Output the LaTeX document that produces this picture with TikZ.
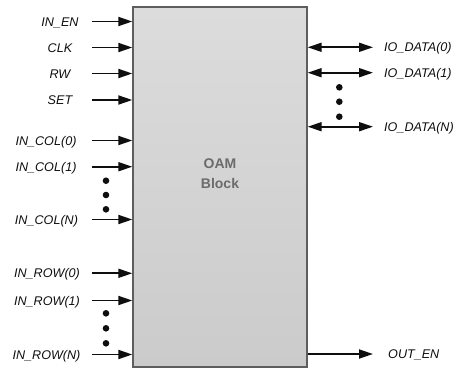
\documentclass[tikz,border=0pt]{standalone}
\usepackage{fontspec}
\setmainfont{Liberation Sans}
\usetikzlibrary{arrows.meta}
\definecolor{boxtop}{HTML}{DCDCDC}
\definecolor{boxbot}{HTML}{CBCBCB}
\definecolor{boxline}{HTML}{5E5E5E}
\definecolor{blocktxt}{HTML}{6B6B6B}
\definecolor{sigcol}{HTML}{0E0E0E}
\tikzset{
  oambox/.style={draw=boxline, line width=1.4pt, top color=boxtop, bottom color=boxbot,
    minimum width=174pt, minimum height=360pt, inner sep=0pt},
  sigtxt/.style={font=\fontsize{12.6}{14}\selectfont\itshape, text=sigcol,
    text height=9pt, text depth=0pt, inner sep=0pt},
  sig/.style={draw=sigcol, line width=1.8pt, -{Triangle[length=14pt,width=9pt]}},
  bisig/.style={draw=sigcol, line width=1.8pt,
    {Triangle[length=14pt,width=9pt]}-{Triangle[length=14pt,width=9pt]}},
  dotmark/.style={fill=sigcol}
}
\begin{document}
\begin{tikzpicture}[x=1pt,y=-1pt]
\useasboundingbox (0,0) rectangle (460,367);
% the block
\node[oambox] (oam) at (220,187) {};
\node[align=center, text=blocktxt, font=\fontsize{14}{20}\selectfont\bfseries] (oamtxt) at (220,174) {OAM\\Block};
% inputs on the left
\foreach \nm/\xx/\yy/\txt in {inen/60/21.5/IN\_EN, clk/60/47.5/CLK, rw/60/73.5/RW, set/60/100/SET,
  col0/46/140.5/IN\_COL(0), col1/46/166.7/IN\_COL(1), colN/46.5/219.5/IN\_COL(N),
  row0/47/273.3/IN\_ROW(0), row1/47/300.5/IN\_ROW(1), rowN/46.5/354.5/IN\_ROW(N)} {
  \node[sigtxt] (l-\nm) at (\xx,\yy) {\txt};
  \coordinate (s-\nm) at (92,\yy);
  \draw[sig] (s-\nm) -- (s-\nm -| oam.west);
}
% data and enable on the right
\foreach \nm/\yy/\txt in {d0/47.3/IO\_DATA(0), d1/72.7/IO\_DATA(1), dN/126.7/IO\_DATA(N)} {
  \node[sigtxt, anchor=west] (l-\nm) at (384,\yy) {\txt};
  \coordinate (e-\nm) at (373,\yy);
  \draw[bisig] (e-\nm -| oam.east) -- (e-\nm);
}
\node[sigtxt, anchor=west] (l-outen) at (388,354) {OUT\_EN};
\coordinate (e-outen) at (373,354);
\draw[sig] (e-outen -| oam.east) -- (e-outen);
% ellipsis dots
\foreach \yy in {180.7,195,209.3,313.3,328.3,343.3}
  \fill[dotmark] (106,\yy) circle (3.3);
\foreach \yy in {87.3,101.7,116.7}
  \fill[dotmark] (339.3,\yy) circle (3.3);
\end{tikzpicture}
\end{document}
